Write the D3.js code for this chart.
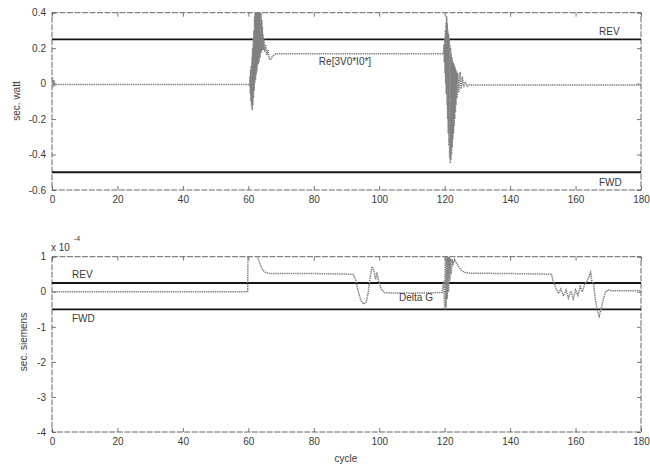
<!DOCTYPE html>
<html><head><meta charset="utf-8">
<script src="https://cdn.jsdelivr.net/npm/d3@7/dist/d3.min.js"></script>
<style>
body{margin:0;background:#fff;}
text{font-family:"Liberation Sans",Arial,sans-serif;fill:#3a3a3a;}
</style></head>
<body>
<svg id="chart" width="650" height="468"></svg>
<script>
// ---- data ----
const xTicks = [0,20,40,60,80,100,120,140,160,180];
const topYTicks = [-0.6,-0.4,-0.2,0,0.2,0.4];
const botYTicks = [-4,-3,-2,-1,0,1];
const topRev = 0.25, topFwd = -0.5;
const botRev = 0.25, botFwd = -0.5;
// Re[3V0*I0*] (sec. watt), [cycle, value]
const topSignal = [
 [0,0.0],[0.2,0.035],[0.4,-0.02],[0.6,0.02],[0.8,-0.015],[1.1,0.0],[1.5,-0.005],[30,-0.005],[60.2,-0.005],
 [60.4,-0.01],[60.5,0.04],[60.6,-0.06],[60.7,0.08],[60.8,-0.10],[60.9,0.10],[61.0,-0.13],[61.1,0.15],
 [61.2,-0.15],[61.3,0.20],[61.4,-0.12],[61.5,0.25],[61.6,-0.08],[61.7,0.30],[61.8,-0.04],[61.9,0.38],
 [62.0,0.00],[62.1,0.45],[62.2,0.02],[62.3,0.45],[62.4,0.05],[62.5,0.45],[62.6,0.07],[62.7,0.45],
 [62.8,0.10],[62.9,0.45],[63.0,0.11],[63.1,0.45],[63.2,0.12],[63.3,0.45],[63.4,0.14],[63.5,0.45],
 [63.6,0.15],[63.7,0.43],[63.8,0.17],[63.9,0.40],[64.0,0.18],[64.1,0.36],[64.2,0.19],[64.3,0.32],
 [64.4,0.20],[64.5,0.28],[64.6,0.19],[64.8,0.25],[65.0,0.18],[65.3,0.22],[65.6,0.16],[66.0,0.19],
 [66.4,0.14],[66.8,0.135],[67.4,0.155],[68.4,0.168],[90,0.168],[119.6,0.168],
 [119.8,0.22],[119.9,0.12],[120.0,0.26],[120.1,0.06],[120.2,0.30],[120.3,0.0],[120.4,0.34],[120.5,-0.06],
 [120.6,0.38],[120.7,-0.12],[120.8,0.34],[120.9,-0.20],[121.0,0.30],[121.1,-0.28],[121.2,0.28],[121.3,-0.35],
 [121.4,0.25],[121.5,-0.42],[121.6,0.22],[121.7,-0.45],[121.8,0.20],[121.9,-0.43],[122.0,0.17],[122.1,-0.40],
 [122.2,0.15],[122.3,-0.36],[122.4,0.13],[122.5,-0.32],[122.6,0.12],[122.7,-0.28],[122.8,0.11],[122.9,-0.24],
 [123.0,0.10],[123.1,-0.20],[123.2,0.09],[123.3,-0.16],[123.4,0.08],[123.5,-0.12],[123.6,0.07],[123.8,-0.08],
 [124.0,0.06],[124.3,-0.05],[124.7,0.065],[125.0,-0.03],[125.4,0.04],[125.8,-0.02],[126.3,0.01],
 [126.9,-0.015],[127.6,-0.005],[128.5,-0.008],[150,-0.008],[180,-0.008]
];
// Delta G (sec. siemens, x1e-4), [cycle, value]
const botSignal = [
 [0,0.0],[30,0.0],[59.8,0.0],[59.9,1.2],[62.6,1.2],[63.0,0.95],[63.6,0.78],[64.4,0.62],[65.4,0.54],[67,0.52],
 [80,0.52],[92,0.5],[92.8,0.35],[93.6,0.0],[94.4,-0.25],[95.2,-0.35],[96,-0.3],[96.6,-0.05],[97.2,0.4],
 [97.8,0.72],[98.4,0.6],[98.9,0.35],[99.3,0.55],[99.8,0.3],[100.6,0.08],[101.6,-0.03],[110,-0.04],[119.2,-0.02],
 [119.7,0.3],[120.0,-0.5],[120.2,1.1],[120.4,-0.45],[120.6,1.1],[120.8,-0.2],[121.0,1.1],[121.2,0.0],
 [121.4,1.0],[121.6,0.3],[121.8,0.95],[122.0,0.5],[122.3,0.92],[122.6,0.8],[123.0,0.92],[123.6,0.82],
 [124.4,0.7],[125.2,0.6],[126.2,0.55],[128,0.53],[140,0.52],[152.6,0.5],[153.2,0.3],[154,0.1],[154.8,-0.05],
 [155.5,0.08],[156.3,-0.12],[157.1,0.05],[157.8,-0.18],[158.6,0.02],[159.3,-0.2],[160,0.05],[160.7,-0.1],
 [161.4,0.15],[162.1,0.0],[162.8,0.22],[163.5,0.3],[164.2,0.45],[164.6,0.55],[165.0,0.3],[165.5,0.25],
 [166.0,-0.2],[166.6,-0.5],[167.2,-0.7],[167.8,-0.5],[168.5,-0.2],[169.2,0.0],[170,0.05],[171,0.03],[180,0.03]
];

// ---- layout ----
const svg = d3.select("#chart");
const L = 52, R = 641;
const x = d3.scaleLinear().domain([0,180]).range([L,R]);
const panels = [
  {id:"t", y:d3.scaleLinear().domain([-0.6,0.4]).range([190,12.7]), ticks:topYTicks,
   fmt:d=>d===0?"0":d.toFixed(1), data:topSignal, rev:topRev, fwd:topFwd},
  {id:"b", y:d3.scaleLinear().domain([-4,1]).range([432,256.7]), ticks:botYTicks,
   fmt:d=>String(d), data:botSignal, rev:botRev, fwd:botFwd}
];

panels.forEach(p=>{
  const y = p.y, T = y.range()[1], B = y.range()[0];
  svg.append("clipPath").attr("id","clip"+p.id).append("rect")
    .attr("x",L).attr("y",T).attr("width",R-L).attr("height",B-T);
  const g = svg.append("g");
  const ax = (gen, tr, lab) => {
    const a = g.append("g").attr("transform",tr).call(gen);
    a.select(".domain").remove();
    a.selectAll("line").attr("stroke","#555").attr("stroke-width",0.8);
    a.selectAll("text").style("font-size","10px").attr("fill","#3a3a3a");
    if(!lab) a.selectAll("text").remove();
    return a;
  };
  ax(d3.axisBottom(x).tickValues(xTicks).tickSize(-4).tickPadding(6).tickFormat(d3.format("d")),`translate(0,${B})`,true);
  ax(d3.axisTop(x).tickValues(xTicks).tickSize(-4),`translate(0,${T})`,false);
  ax(d3.axisLeft(y).tickValues(p.ticks).tickSize(-4).tickPadding(6).tickFormat(p.fmt),`translate(${L},0)`,true);
  ax(d3.axisRight(y).tickValues(p.ticks).tickSize(-4),`translate(${R},0)`,false);
  g.append("rect").attr("x",L).attr("y",T).attr("width",R-L).attr("height",B-T)
    .attr("fill","none").attr("stroke","#555").attr("stroke-width",0.9).attr("stroke-dasharray","6,1.5");
  const cg = g.append("g").attr("clip-path",`url(#clip${p.id})`);
  [p.rev,p.fwd].forEach(v=>{
    cg.append("line").attr("x1",L).attr("x2",R).attr("y1",y(v)).attr("y2",y(v))
      .attr("stroke","#151515").attr("stroke-width",1.8);
  });
  cg.append("path").datum(p.data)
    .attr("d",d3.line().x(d=>x(d[0])).y(d=>y(d[1])))
    .attr("fill","none").attr("stroke","#808080").attr("stroke-width",1.5)
    .attr("stroke-dasharray","1.4,0.8");
});

// ---- labels ----
const t = (s,xx,yy,opt={}) => svg.append("text").attr("x",xx).attr("y",yy)
  .attr("text-anchor",opt.a||"start").style("font-size",(opt.fs||10)+"px")
  .attr("transform",opt.rot?`rotate(-90,${xx},${yy})`:null).text(s);
const yt = panels[0].y, yb = panels[1].y;
t("REV",599,yt(topRev)-4);
t("FWD",599,yt(topFwd)+14);
t("Re[3V0*I0*]",345,yt(0.13)+4,{a:"middle"});
t("REV",72,yb(botRev)-5);
t("FWD",72,yb(botFwd)+13);
t("Delta G",416,yb(-0.15)+4,{a:"middle"});
t("sec. watt",20,101,{a:"middle",rot:true});
t("sec. siemens",27,342,{a:"middle",rot:true});
t("cycle",346,462,{a:"middle"});
t("x 10",51,251);
t("-4",74,241,{fs:7});
</script>
</body></html>
